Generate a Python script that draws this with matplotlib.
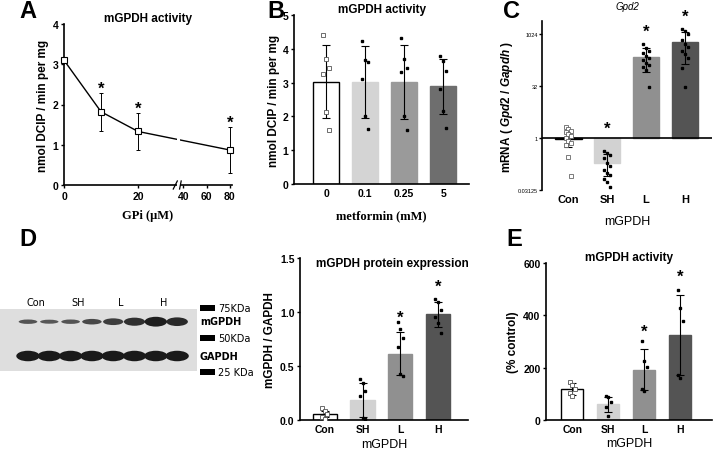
import numpy as np
import matplotlib.pyplot as plt
from matplotlib.patches import Ellipse, Rectangle

plt.rcParams['font.family'] = ['Liberation Sans', 'DejaVu Sans']
plt.rcParams['font.weight'] = 'bold'
plt.rcParams['axes.labelweight'] = 'bold'
plt.rcParams['mathtext.fontset'] = 'custom'
plt.rcParams['mathtext.it'] = 'Liberation Sans:italic:bold'
plt.rcParams['mathtext.rm'] = 'Liberation Sans:bold'

# ---- A: mGPDH activity vs GPi
gpi_conc = [0, 10, 20, 80]
gpi_mean = [3.1, 1.82, 1.33, 0.87]
gpi_sd = [0.0, 0.47, 0.46, 0.56]
gpi_sig = [False, True, True, True]

# ---- B: mGPDH activity vs metformin
met_labels = ['0', '0.1', '0.25', '5']
met_mean = [3.03, 3.01, 3.02, 2.89]
met_sd = [1.09, 1.06, 1.10, 0.82]
met_points = [[4.41, 3.69, 3.44, 3.25, 2.12, 1.59],
              [4.23, 3.66, 3.61, 3.12, 2.02, 1.62],
              [4.33, 3.69, 3.44, 3.30, 2.02, 1.59],
              [3.79, 3.64, 3.35, 2.82, 2.17, 1.67]]

groups = ['Con', 'SH', 'L', 'H']

# ---- C: Gpd2 mRNA (log2 axis)
gpd2_mean = [0.93, 0.19, 234, 626]
gpd2_low = [0.56, 0.08, 82, 143]
gpd2_high = [1.46, 0.34, 410, 1180]
gpd2_points = [[2.14, 1.83, 1.6, 1.52, 1.31, 1.12, 0.98, 0.85, 0.72, 0.62, 0.29, 0.08],
               [0.43, 0.38, 0.32, 0.27, 0.19, 0.16, 0.12, 0.095, 0.084, 0.064, 0.053, 0.039],
               [549, 410, 335, 292, 251, 209, 184, 157, 137, 115, 98, 31],
               [1499, 1252, 1067, 685, 549, 437, 350, 280, 209, 107, 30]]
gpd2_star = [None, 1.9, 1260, 3560]

# ---- D: western blot band strength and quantification
blot_mgpdh = [0.3, 0.25, 0.3, 0.45, 0.6, 0.78, 1.0, 0.85]
blot_gapdh = [1.0, 1.0, 1.0, 1.0, 1.0, 1.0, 1.0, 1.0]
prot_mean = [0.056, 0.186, 0.615, 0.977]
prot_sd = [0.03, 0.16, 0.20, 0.12]
prot_points = [[0.108, 0.083, 0.056, 0.025, 0.009],
               [0.38, 0.34, 0.27, 0.226, 0.015, 0.01],
               [0.906, 0.844, 0.758, 0.674, 0.427, 0.411],
               [1.12, 1.09, 1.02, 0.95, 0.90, 0.81]]
prot_sig = [False, False, True, True]

# ---- E: mGPDH activity (% control)
act_mean = [118, 60, 192, 326]
act_sd = [22, 29, 79, 153]
act_points = [[146, 134, 118, 105, 92],
              [90, 86, 69, 51, 15],
              [302, 226, 201, 118, 111],
              [495, 427, 380, 173, 160]]
act_sig = [False, False, True, True]

bar_colors = ['white', '#d2d2d2', '#909090', '#545454']
met_colors = ['white', '#d4d4d4', '#9a9a9a', '#6e6e6e']

W, H = 713, 452
fig = plt.figure(figsize=(W / 100, H / 100), dpi=100)


def box(l, t, r, b):
    return [l / W, 1 - b / H, (r - l) / W, (b - t) / H]


def style(ax):
    for s in ['top', 'right']:
        ax.spines[s].set_visible(False)
    for s in ['left', 'bottom']:
        ax.spines[s].set_linewidth(1.2)
    ax.tick_params(length=2.5, width=1, labelsize=7.5, pad=1.5)


def jitter(n):
    return ((np.arange(n) % 3) - 1) * 0.07


def bar_panel(ax, labels, means, sd, points, colors, width):
    x = np.arange(len(labels))
    ax.bar(x, means, width=width, color=colors, edgecolor=['black'] + list(colors[1:]),
           linewidth=1.0, zorder=1)
    ax.errorbar(x, means, yerr=sd, fmt='none', ecolor='black', elinewidth=0.8,
                capsize=3, capthick=0.8, zorder=3)
    for i, pts in enumerate(points):
        if i == 0:
            ax.plot(x[i] + jitter(len(pts)), pts, 's', ms=2.2, mfc='white', mec='#555555',
                    mew=0.6, ls='none', zorder=4)
        else:
            ax.plot(x[i] + jitter(len(pts)), pts, 's', ms=2.0, color='black', ls='none', zorder=4)
    ax.set_xticks(x)
    ax.set_xticklabels(labels)
    style(ax)
    ax.tick_params(axis='x', length=0, pad=3)


# ================= A
axA = fig.add_axes(box(64, 25, 232, 186))
knots_in = [0, 30.5, 37, 82]
knots_out = [0, 30.5, 31.3, 31.3 + 45 * 0.3125]


def fwd(v):
    return np.interp(v, knots_in, knots_out)


def inv(v):
    return np.interp(v, knots_out, knots_in)


axA.set_xscale('function', functions=(fwd, inv))
axA.plot(gpi_conc, gpi_mean, color='black', lw=1.0, zorder=2)
axA.errorbar(gpi_conc, gpi_mean, yerr=gpi_sd, fmt='none', ecolor='black',
             elinewidth=0.7, capsize=1.5, capthick=0.7, zorder=2)
axA.plot(gpi_conc, gpi_mean, 's', ms=5, mfc='white', mec='black', mew=0.8,
         ls='none', zorder=5, clip_on=False)
for c, m, s, g in zip(gpi_conc, gpi_mean, gpi_sd, gpi_sig):
    if g:
        axA.text(c, m + s + 0.12, '*', ha='center', va='center', fontsize=12)
axA.set_xlim(0, 82)
axA.set_ylim(0, 4)
axA.set_xticks([0, 20, 40, 60, 80])
axA.set_xticklabels(['0', '20', '40', '60', '80'])
axA.xaxis.set_minor_locator(plt.NullLocator())
axA.set_yticks([0, 1, 2, 3, 4])
style(axA)
# axis break
axA.add_patch(Rectangle((30.6, -0.03), 6.2, 1.03, transform=axA.get_xaxis_transform(),
                        facecolor='white', edgecolor='none', zorder=6, clip_on=False))
for bx in [30.4, 37.2]:
    axA.plot([bx - 0.9, bx + 0.9], [-0.025, 0.025], color='black', lw=0.9,
             transform=axA.get_xaxis_transform(), clip_on=False, zorder=7)
axA.set_title('mGPDH activity', fontsize=8.5, fontweight='bold', pad=2)
axA.set_ylabel('nmol DCIP / min per mg', fontsize=8.5, labelpad=3)
axA.set_xlabel('GPi (\u03bcM)', fontsize=9, family=['Liberation Serif', 'DejaVu Serif'],
               labelpad=6)

# ================= B
axB = fig.add_axes(box(294, 16, 469, 185))
bar_panel(axB, met_labels, met_mean, met_sd, met_points, met_colors, 0.67)
axB.set_xlim(-0.82, 3.66)
axB.set_ylim(0, 5)
axB.set_yticks([0, 1, 2, 3, 4, 5])
axB.set_title('mGPDH activity', fontsize=8.5, fontweight='bold', pad=2)
axB.set_ylabel('nmol DCIP / min per mg', fontsize=8.5, labelpad=2)
axB.set_xlabel('metformin (mM)', fontsize=9, family=['Liberation Serif', 'DejaVu Serif'],
               labelpad=8)

# ================= C
axC = fig.add_axes(box(542, 22, 712, 191))
axC.set_yscale('log', base=2)
xc = np.arange(4)
axC.bar(xc, np.array(gpd2_mean) - 1, bottom=1, width=0.68, color=bar_colors,
        edgecolor=['black'] + bar_colors[1:], linewidth=1.0, zorder=1)
axC.errorbar(xc, gpd2_mean, yerr=[np.array(gpd2_mean) - np.array(gpd2_low),
                                  np.array(gpd2_high) - np.array(gpd2_mean)],
             fmt='none', ecolor='black', elinewidth=0.8, capsize=3, capthick=0.8, zorder=3)
for i, pts in enumerate(gpd2_points):
    if i == 0:
        axC.plot(xc[i] + jitter(len(pts)), pts, 's', ms=2.2, mfc='white', mec='#666666',
                 mew=0.6, ls='none', zorder=4)
    else:
        axC.plot(xc[i] + jitter(len(pts)), pts, 's', ms=2.0, color='black', ls='none', zorder=4)
for i, s in enumerate(gpd2_star):
    if s is not None:
        axC.text(xc[i], s, '*', ha='center', va='center', fontsize=12, clip_on=False)
axC.axhline(1, color='black', lw=1.2, zorder=2)
axC.set_xlim(-0.68, 3.7)
axC.set_ylim(2 ** -5, 2 ** 11.3)
axC.set_yticks([2 ** -5, 1, 32, 1024])
axC.set_yticklabels(['0.03125', '1', '32', '1024'])
axC.yaxis.set_minor_locator(plt.NullLocator())
style(axC)
axC.spines['bottom'].set_visible(False)
axC.tick_params(axis='y', labelsize=4, length=2, pad=1)
for t in axC.get_yticklabels():
    t.set_fontweight('normal')
axC.set_xticks(xc)
axC.set_xticklabels(groups)
axC.tick_params(axis='x', length=0, pad=3, labelsize=8)
axC.set_title('Gpd2', fontsize=7, fontstyle='italic', fontweight='normal', pad=9)
axC.set_ylabel(r'mRNA ( $\mathit{Gpd2}$ / $\mathit{Gapdh}$ )', fontsize=8.5, labelpad=2)
axC.set_xlabel('mGPDH', fontsize=9, fontweight='normal', labelpad=8)

# ================= D blot
axBlot = fig.add_axes(box(0, 295, 240, 380))
axBlot.set_xlim(-28 / 21.3, (240 - 28) / 21.3)
axBlot.set_ylim((380 - 322) / 35, (295 - 322) / 35)
axBlot.axis('off')
axBlot.add_patch(Rectangle((-28 / 21.3, -0.34), (197 / 21.3), 1.77,
                           facecolor='#dedede', edgecolor='none'))
for i, v in enumerate(blot_mgpdh):
    axBlot.add_patch(Ellipse((i, 0.02), 0.8 + 0.25 * v, 0.06 + 0.22 * v,
                             facecolor='#1e1e1e', edgecolor='none', alpha=0.6 + 0.4 * v))
for i, v in enumerate(blot_gapdh):
    axBlot.add_patch(Ellipse((i, 1.0), 1.1, 0.3 * v, facecolor='#1a1a1a', edgecolor='none'))
narrow = ['Liberation Sans Narrow', 'DejaVu Sans']
for i, g in enumerate(groups):
    axBlot.text(2 * i + 0.35, -0.55, g, ha='center', va='center', fontsize=7,
                fontweight='normal', family=narrow)
for yy, txt in [(-0.37, '75KDa'), (0.49, '50KDa'), (1.46, '25 KDa')]:
    axBlot.add_patch(Rectangle((8.07, yy - 0.08), 0.72, 0.16, facecolor='black',
                               edgecolor='none', clip_on=False))
    axBlot.text(8.92, yy, txt, ha='left', va='center', fontsize=7, fontweight='normal',
                family=narrow, clip_on=False)
for yy, txt in [(0.0, 'mGPDH'), (1.0, 'GAPDH')]:
    axBlot.text(8.07, yy, txt, ha='left', va='center', fontsize=7, fontweight='bold',
                family=narrow, clip_on=False)

# ================= D bar
axD = fig.add_axes(box(300, 259, 468, 421))
bar_panel(axD, groups, prot_mean, prot_sd, prot_points, bar_colors, 0.65)
for i, (m, s, g) in enumerate(zip(prot_mean, prot_sd, prot_sig)):
    if g:
        axD.text(i, m + s + 0.14, '*', ha='center', va='center', fontsize=12)
axD.set_xlim(-0.66, 3.8)
axD.set_ylim(0, 1.5)
axD.set_yticks([0, 0.5, 1.0, 1.5])
axD.set_yticklabels(['0.0', '0.5', '1.0', '1.5'])
axD.text(0.55, 0.97, 'mGPDH protein expression', transform=axD.transAxes, ha='center',
         va='center', fontsize=8.5, fontweight='bold')
axD.set_ylabel('mGPDH / GAPDH', fontsize=8.5, labelpad=3)
axD.set_xlabel('mGPDH', fontsize=9, fontweight='normal', labelpad=3)

# ================= E
axE = fig.add_axes(box(546, 264, 712, 421))
bar_panel(axE, groups, act_mean, act_sd, act_points, bar_colors, 0.62)
for i, (m, s, g) in enumerate(zip(act_mean, act_sd, act_sig)):
    if g:
        axE.text(i, m + s + 70, '*', ha='center', va='center', fontsize=12)
axE.set_xlim(-0.73, 3.89)
axE.set_ylim(0, 600)
axE.set_yticks([0, 200, 400, 600])
axE.set_title('mGPDH activity', fontsize=8.5, fontweight='bold', pad=1)
axE.set_ylabel('(% control)', fontsize=8.5, labelpad=3)
axE.set_xlabel('mGPDH', fontsize=9, fontweight='normal', labelpad=2)

# panel letters
for lx, ly, lt in [(19, 12, 'A'), (267, 12, 'B'), (503, 12, 'C'), (19, 240, 'D'), (506, 240, 'E')]:
    fig.text(lx / W, 1 - ly / H, lt, fontsize=17, fontweight='bold', va='center', ha='left')

fig.savefig('out.png', dpi=100)
